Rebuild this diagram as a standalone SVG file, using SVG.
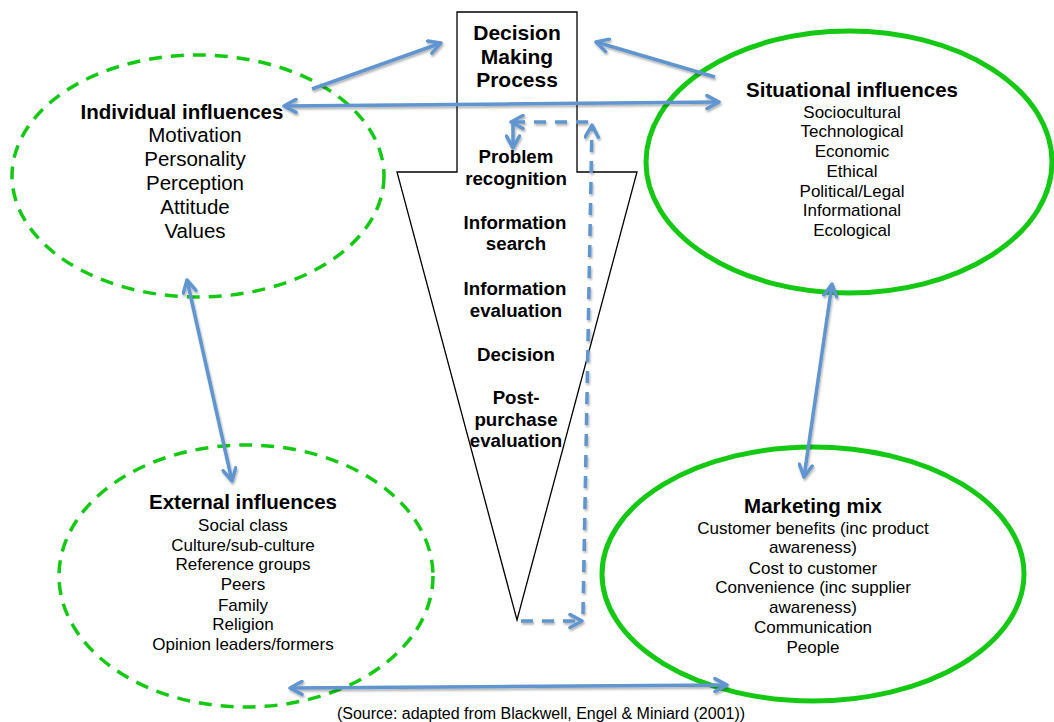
<svg xmlns="http://www.w3.org/2000/svg" width="1054" height="722" viewBox="0 0 1054 722">
<style>
.dash{fill:none;stroke:#14c814;stroke-width:3.5;stroke-dasharray:13 9}
.solid{fill:none;stroke:#14c814;stroke-width:5}
.con{fill:none;stroke:#6095cf;stroke-width:3.5}
.dc{stroke-dasharray:12 9}
text{font-family:"Liberation Sans",Arial,sans-serif;fill:#000;text-anchor:middle}
.h{font-weight:bold;font-size:20.5px}
.l{font-size:20.5px}
.s{font-size:17px}
.st{font-weight:bold;font-size:18.7px}
.t{font-weight:bold;font-size:21px}
</style>
<defs>
<filter id="sh" filterUnits="userSpaceOnUse" x="0" y="0" width="1054" height="722">
<feDropShadow dx="1" dy="2" stdDeviation="1.2" flood-color="#000" flood-opacity="0.3"/>
</filter>
<marker id="a" viewBox="0 0 16 16" refX="14" refY="8" markerWidth="16" markerHeight="16" markerUnits="userSpaceOnUse" orient="auto-start-reverse">
<path d="M2,1.5 L14,8 L2,14.5" fill="none" stroke="#6095cf" stroke-width="3.5" stroke-linecap="round" stroke-linejoin="round"/>
</marker>
</defs>
<rect width="1054" height="722" fill="#fff"/>

<g id="individual">
<ellipse class="dash" cx="198" cy="176" rx="186" ry="121"/>
<text class="h" x="182" y="119">Individual influences</text>
<text class="l" x="195" y="142">Motivation</text>
<text class="l" x="195" y="166">Personality</text>
<text class="l" x="195" y="190">Perception</text>
<text class="l" x="195" y="214">Attitude</text>
<text class="l" x="195" y="238">Values</text>
</g>

<g id="situational">
<ellipse class="solid" cx="849" cy="162" rx="203" ry="131"/>
<text class="h" x="852" y="97">Situational influences</text>
<text class="s" x="852" y="118">Sociocultural</text>
<text class="s" x="852" y="137">Technological</text>
<text class="s" x="852" y="157">Economic</text>
<text class="s" x="852" y="177">Ethical</text>
<text class="s" x="852" y="197">Political/Legal</text>
<text class="s" x="852" y="216">Informational</text>
<text class="s" x="852" y="236">Ecological</text>
</g>

<g id="external">
<ellipse class="dash" cx="246" cy="576" rx="187" ry="131"/>
<text class="h" x="243" y="509">External influences</text>
<text class="s" x="243" y="531">Social class</text>
<text class="s" x="243" y="551">Culture/sub-culture</text>
<text class="s" x="243" y="570">Reference groups</text>
<text class="s" x="243" y="590">Peers</text>
<text class="s" x="243" y="611">Family</text>
<text class="s" x="243" y="630">Religion</text>
<text class="s" x="243" y="650">Opinion leaders/formers</text>
</g>

<g id="marketing">
<ellipse class="solid" cx="813" cy="574" rx="211" ry="127"/>
<text class="h" x="813" y="513">Marketing mix</text>
<text class="s" x="813" y="534">Customer benefits (inc product</text>
<text class="s" x="813" y="553">awareness)</text>
<text class="s" x="813" y="574">Cost to customer</text>
<text class="s" x="813" y="593">Convenience (inc supplier</text>
<text class="s" x="813" y="613">awareness)</text>
<text class="s" x="813" y="633">Communication</text>
<text class="s" x="813" y="653">People</text>
</g>

<g id="decision">
<path d="M457,12 H577 V172 H637 L517,620 L397,172 H457 Z" fill="#fff" stroke="#000" stroke-width="1.3"/>
<text class="t" x="517" y="40">Decision</text>
<text class="t" x="517" y="64">Making</text>
<text class="t" x="517" y="87">Process</text>
<text class="st" x="516" y="163">Problem</text>
<text class="st" x="516" y="185">recognition</text>
<text class="st" x="515" y="229">Information</text>
<text class="st" x="516" y="250">search</text>
<text class="st" x="515" y="295">Information</text>
<text class="st" x="516" y="317">evaluation</text>
<text class="st" x="516" y="361">Decision</text>
<text class="st" x="516" y="404">Post-</text>
<text class="st" x="516" y="426">purchase</text>
<text class="st" x="516" y="447">evaluation</text>
</g>

<g id="connectors" filter="url(#sh)">
<line class="con" x1="312" y1="89" x2="441" y2="43" marker-end="url(#a)"/>
<line class="con" x1="715" y1="77" x2="596" y2="42" marker-end="url(#a)"/>
<line class="con" x1="284" y1="106" x2="719" y2="102" marker-start="url(#a)" marker-end="url(#a)"/>
<line class="con" x1="187" y1="280" x2="232" y2="481" marker-start="url(#a)" marker-end="url(#a)"/>
<line class="con" x1="832" y1="284" x2="804" y2="477" marker-start="url(#a)" marker-end="url(#a)"/>
<line class="con" x1="290" y1="688" x2="727" y2="685" marker-start="url(#a)" marker-end="url(#a)"/>
<line class="con dc" x1="521" y1="621" x2="582" y2="621" marker-end="url(#a)"/>
<line class="con dc" x1="583" y1="614" x2="592" y2="125" marker-end="url(#a)"/>
<line class="con dc" x1="588" y1="122" x2="511" y2="122" marker-end="url(#a)"/>
<line class="con" x1="513" y1="124" x2="513" y2="148" marker-end="url(#a)"/>
</g>

<text x="541" y="719" style="font-size:16px">(Source: adapted from Blackwell, Engel &amp; Miniard (2001))</text>
</svg>
